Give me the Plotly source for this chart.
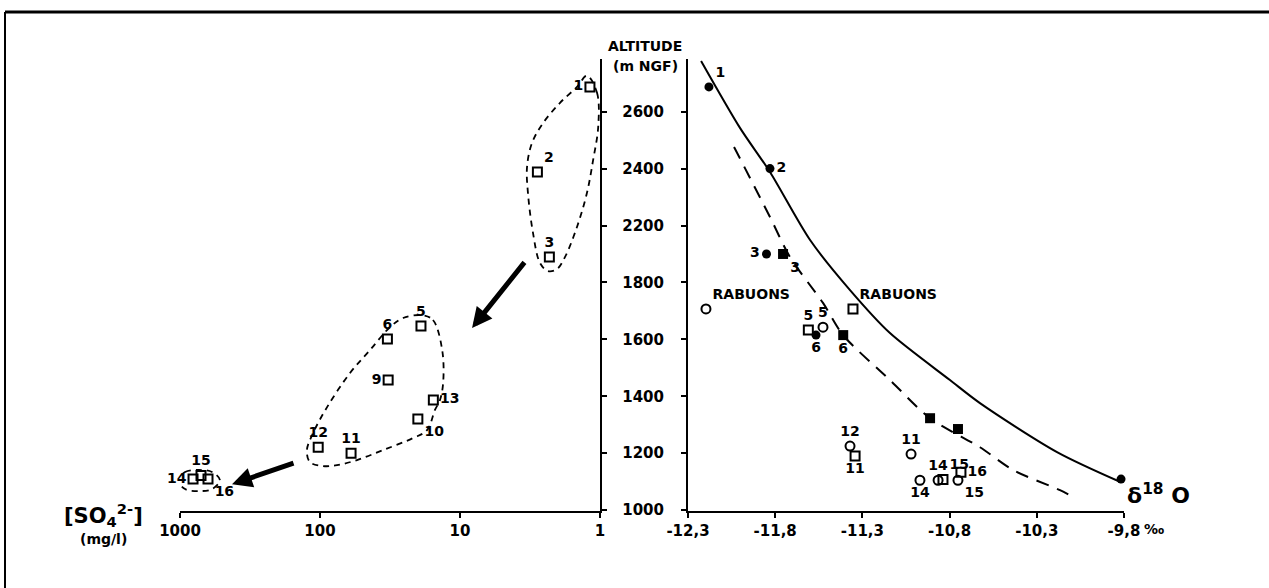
import numpy as np
import plotly.graph_objects as go

W, H = 1269, 588
FONT = "DejaVu Sans, sans-serif"

# ---------------- data ----------------
ALT_TICK_LABELS = [1000, 1200, 1400, 1600, 1800, 2200, 2400, 2600]
SO4_TICKS = [1000, 100, 10, 1]
SO4_TICK_TEXT = ["1000", "100", "10", "1"]
D18O_TICKS = [-12.3, -11.8, -11.3, -10.8, -10.3, -9.8]
D18O_TICK_TEXT = ["-12,3", "-11,8", "-11,3", "-10,8", "-10,3", "-9,8"]

# Left panel: sulphate (mg/l) vs altitude
so4_ids = ["1", "2", "3", "5", "6", "9", "13", "10", "12", "11", "14", "15", "16"]
so4_mgl = [1.18, 2.8, 2.3, 19, 33, 32.6, 15.5, 20, 103, 60, 807, 708, 631]
so4_alt = [2687, 2388, 1978, 1647, 1601, 1457, 1387, 1320, 1221, 1200, 1109, 1122, 1109]

# Right panel: delta 18O vs altitude
fc_ids = ["1", "2", "3", "6"]
fc_d18o = [-12.18, -11.83, -11.85, -11.566]
fc_alt = [2687, 2400, 2000, 1615]
fc_nolabel_d18o = [-9.817]
fc_nolabel_alt = [1109]

fs_ids = ["3", "6"]
fs_d18o = [-11.755, -11.41]
fs_alt = [2000, 1615]
fs_nolabel_d18o = [-10.912, -10.752]
fs_nolabel_alt = [1323, 1285]

oc_ids = ["RABUONS", "5", "12", "11", "14", "14", "15"]
oc_d18o = [-12.197, -11.526, -11.371, -11.021, -10.97, -10.866, -10.752]
oc_alt = [1707, 1643, 1225, 1197, 1105, 1105, 1105]

os_ids = ["RABUONS", "5", "11", "15", "16"]
os_d18o = [-11.354, -11.61, -11.342, -10.838, -10.735]
os_alt = [1707, 1633, 1190, 1108, 1133]

# Gradient curves
solid_d18o = [-12.225, -12.002, -11.83, -11.6, -11.371, -11.142, -10.798, -10.626, -10.184, -9.817]
solid_alt = [2778, 2543, 2388, 2098, 1773, 1622, 1457, 1376, 1204, 1098]
dashed_d18o = [-12.036, -11.83, -11.715, -11.526, -11.411, -11.142, -10.912, -10.626, -10.436, -10.167, -10.081]
dashed_alt = [2476, 2230, 1978, 1728, 1615, 1457, 1323, 1221, 1141, 1070, 1042]

# Group outlines (left panel)
loop1_mgl = [1.24, 1.05, 1.03, 1.12, 1.24, 1.46, 1.78, 2.03, 2.35, 2.68, 3.01, 3.27, 3.32, 3.06, 2.55, 1.93, 1.46, 1.24]
loop1_alt = [2726, 2666, 2546, 2430, 2314, 2190, 1978, 1894, 1880, 1936, 2148, 2314, 2406, 2490, 2560, 2631, 2687, 2726]
loop2_mgl = [18.7, 15.6, 13.4, 13.2, 13.9, 15.1, 17.2, 21.7, 35.5, 54.4, 75.6, 95.2, 118, 124, 112, 89, 61, 44, 31.6, 25.5, 18.7]
loop2_alt = [1685, 1668, 1562, 1446, 1387, 1352, 1281, 1253, 1211, 1176, 1158, 1155, 1169, 1211, 1271, 1362, 1482, 1562, 1643, 1675, 1685]
loop3_mgl = [1033, 920, 731, 591, 518, 591, 731, 920, 1033]
loop3_alt = [1105, 1134, 1141, 1134, 1105, 1074, 1067, 1074, 1105]

# Arrows (tip value, tip altitude, tail value, tail altitude) in the sulphate panel
arrows = [(8.2, 1640, 3.27, 1972), (425, 1091, 146, 1169)]


# Broken altitude axis: the 1800-2200 interval is compressed into one step
def alt_to_axis(a):
    a = np.asarray(a, dtype=float)
    return np.where(a <= 1800, a, np.where(a < 2200, 1800 + (a - 1800) / 2.0, a - 200))


# ---------------- figure ----------------
fig = go.Figure()
BLACK = "black"
TF = dict(size=14, color=BLACK, family=FONT, weight="bold")

# left panel
fig.add_trace(go.Scatter(
    x=so4_mgl, y=alt_to_axis(so4_alt), mode="markers+text", text=so4_ids,
    textposition=["middle left", "top right", "top center", "top center", "top center",
                  "middle left", "middle right", "bottom right", "top center", "top center",
                  "middle left", "top center", "bottom right"],
    marker=dict(symbol="square-open", size=9, color=BLACK, line=dict(width=2, color=BLACK)),
    textfont=TF, xaxis="x", yaxis="y", showlegend=False, cliponaxis=False))

for lx, ly in [(loop1_mgl, loop1_alt), (loop2_mgl, loop2_alt), (loop3_mgl, loop3_alt)]:
    fig.add_trace(go.Scatter(
        x=lx, y=alt_to_axis(ly), mode="lines",
        line=dict(color=BLACK, width=1.8, dash="6px,5px", shape="spline", smoothing=1.0),
        xaxis="x", yaxis="y", showlegend=False, hoverinfo="skip", cliponaxis=False))

# right panel curves
fig.add_trace(go.Scatter(
    x=solid_d18o, y=alt_to_axis(solid_alt), mode="lines",
    line=dict(color=BLACK, width=2, shape="spline", smoothing=0.8),
    xaxis="x2", yaxis="y2", showlegend=False, cliponaxis=False))
fig.add_trace(go.Scatter(
    x=dashed_d18o, y=alt_to_axis(dashed_alt), mode="lines",
    line=dict(color=BLACK, width=2, dash="13px,9px", shape="spline", smoothing=0.8),
    xaxis="x2", yaxis="y2", showlegend=False, cliponaxis=False))

fig.add_trace(go.Scatter(
    x=fc_d18o, y=alt_to_axis(fc_alt), mode="markers+text", text=fc_ids,
    textposition=["top right", "middle right", "middle left", "bottom center"],
    marker=dict(symbol="circle", size=9, color=BLACK),
    textfont=TF, xaxis="x2", yaxis="y2", showlegend=False, cliponaxis=False))
fig.add_trace(go.Scatter(
    x=fc_nolabel_d18o, y=alt_to_axis(fc_nolabel_alt), mode="markers",
    marker=dict(symbol="circle", size=9, color=BLACK),
    xaxis="x2", yaxis="y2", showlegend=False, cliponaxis=False))
fig.add_trace(go.Scatter(
    x=fs_d18o, y=alt_to_axis(fs_alt), mode="markers+text", text=fs_ids,
    textposition=["bottom right", "bottom center"],
    marker=dict(symbol="square", size=10, color=BLACK),
    textfont=TF, xaxis="x2", yaxis="y2", showlegend=False, cliponaxis=False))
fig.add_trace(go.Scatter(
    x=fs_nolabel_d18o, y=alt_to_axis(fs_nolabel_alt), mode="markers",
    marker=dict(symbol="square", size=10, color=BLACK),
    xaxis="x2", yaxis="y2", showlegend=False, cliponaxis=False))
fig.add_trace(go.Scatter(
    x=oc_d18o, y=alt_to_axis(oc_alt), mode="markers+text", text=oc_ids,
    textposition=["top right", "top center", "top center", "top center", "bottom center",
                  "top center", "bottom right"],
    marker=dict(symbol="circle-open", size=9, color=BLACK, line=dict(width=2, color=BLACK)),
    textfont=TF, xaxis="x2", yaxis="y2", showlegend=False, cliponaxis=False))
fig.add_trace(go.Scatter(
    x=os_d18o, y=alt_to_axis(os_alt), mode="markers+text", text=os_ids,
    textposition=["top right", "top center", "bottom center", "top right", "middle right"],
    marker=dict(symbol="square-open", size=9, color=BLACK, line=dict(width=2, color=BLACK)),
    textfont=TF, xaxis="x2", yaxis="y2", showlegend=False, cliponaxis=False))

# ---------------- layout ----------------
ydom = [1 - 511 / H, 1 - 59 / H]
yrange = [997, 2585]
tickfont = dict(size=15, color=BLACK, family=FONT, weight="bold")
common = dict(automargin=False, showgrid=False, zeroline=False, showline=True, linewidth=2,
              linecolor=BLACK, ticks="outside", ticklen=5, tickwidth=2, tickcolor=BLACK)

fig.update_layout(
    width=W, height=H, margin=dict(l=0, r=0, t=0, b=0, pad=0, autoexpand=False),
    paper_bgcolor="white", plot_bgcolor="white",
    xaxis=dict(type="log", range=[3, 0], domain=[180 / W, 600 / W], anchor="y",
               tickvals=SO4_TICKS, ticktext=SO4_TICK_TEXT, tickfont=tickfont, **common),
    yaxis=dict(range=yrange, domain=ydom, anchor="x", side="right",
               tickvals=alt_to_axis(ALT_TICK_LABELS).tolist(), showticklabels=False, **common),
    xaxis2=dict(range=[-12.3, -9.8], domain=[688 / W, 1124 / W], anchor="y2",
                tickvals=D18O_TICKS, ticktext=D18O_TICK_TEXT, tickfont=tickfont, **common),
    yaxis2=dict(range=yrange, domain=ydom, anchor="x2", side="left",
                tickvals=alt_to_axis(ALT_TICK_LABELS).tolist(),
                ticktext=[str(v) for v in ALT_TICK_LABELS],
                ticklabelstandoff=14, tickfont=tickfont, **common),
    font=dict(family=FONT, color=BLACK),
)

# frame lines of the scanned figure
fig.add_shape(type="line", xref="paper", yref="paper", x0=5 / W, x1=1, y0=1 - 12 / H, y1=1 - 12 / H,
              line=dict(color=BLACK, width=3))
fig.add_shape(type="line", xref="paper", yref="paper", x0=5 / W, x1=5 / W, y0=0, y1=1 - 12 / H,
              line=dict(color=BLACK, width=2))

# arrows (thick shaft drawn as arrow annotations)
for tip_v, tip_a, tail_v, tail_a in arrows:
    fig.add_annotation(x=np.log10(tip_v), y=float(alt_to_axis(tip_a)), xref="x", yref="y",
                       ax=np.log10(tail_v), ay=float(alt_to_axis(tail_a)), axref="x", ayref="y",
                       showarrow=True, arrowhead=2, arrowsize=0.8, arrowwidth=5,
                       arrowcolor=BLACK)

# texts
BF = lambda s: dict(size=s, family=FONT, color=BLACK, weight="bold")
def label(x, y, text, size, **kw):
    fig.add_annotation(x=x, y=y, xref=kw.pop("xref", "paper"), yref="paper", text=text,
                       showarrow=False, xanchor="center", yanchor="middle", font=BF(size), **kw)

label(645 / W, 1 - 46 / H, "ALTITUDE", 14)
label(645 / W, 1 - 66 / H, "(m NGF)", 14)
label(103 / W, 1 - 515 / H, "[SO<sub>4</sub><sup>2-</sup>]", 21)
label(103 / W, 1 - 539 / H, "(mg/l)", 14)
label(1158 / W, 1 - 494 / H, "δ<sup>18</sup> O", 22)
label(-9.8, 1 - 529 / H, "‰", 14, xref="x2", xshift=30)

fig.write_html("out.html", config={"displayModeBar": False},
               post_script="document.body.style.margin='0';")
